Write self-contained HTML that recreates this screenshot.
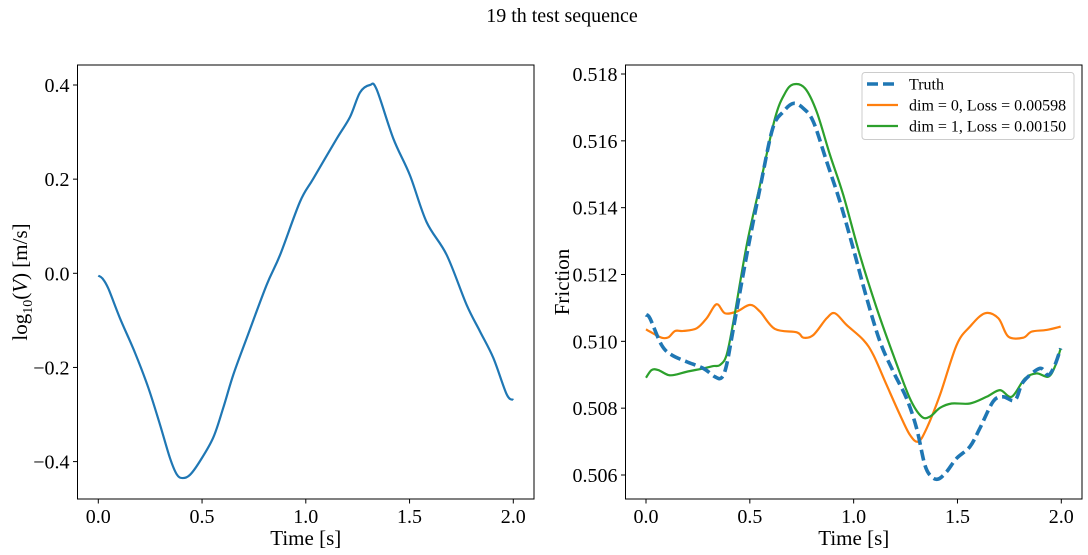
<!DOCTYPE html>
<html><head><meta charset="utf-8"><style>
html,body{margin:0;padding:0;background:#fff;}
svg{display:block;font-family:"Liberation Serif","DejaVu Serif",serif;}
</style></head><body>
<svg id="fig" width="1088" height="555" viewBox="0 0 1088 555" xmlns="http://www.w3.org/2000/svg">
<text x="562" y="22" font-size="20" text-anchor="middle">19 th test sequence</text>
<g id="left"></g>
<g id="right"></g>
</svg>
<script>
const xTicks = [0.0, 0.5, 1.0, 1.5, 2.0];
const xTickLabels = ["0.0","0.5","1.0","1.5","2.0"];
const vTicks = [-0.4,-0.2,0.0,0.2,0.4];
const vTickLabels = ["\u22120.4","\u22120.2","0.0","0.2","0.4"];
const fTicks = [0.506,0.508,0.510,0.512,0.514,0.516,0.518];
const fTickLabels = ["0.506","0.508","0.510","0.512","0.514","0.516","0.518"];

const vT = [0,0.02,0.048,0.104,0.177,0.241,0.297,0.345,0.378,0.406,0.442,0.49,0.554,0.602,0.651,0.715,0.811,0.876,0.972,1.036,1.149,1.213,1.261,1.309,1.341,1.422,1.502,1.582,1.679,1.775,1.839,1.904,1.968,2.0];
const vVal = [-0.005,-0.011,-0.032,-0.095,-0.169,-0.243,-0.321,-0.392,-0.427,-0.435,-0.428,-0.399,-0.349,-0.286,-0.215,-0.138,-0.025,0.039,0.152,0.201,0.286,0.332,0.384,0.400,0.391,0.286,0.208,0.109,0.039,-0.067,-0.123,-0.180,-0.257,-0.269];

const truthT = [0,0.019,0.075,0.124,0.196,0.276,0.332,0.364,0.388,0.421,0.485,0.549,0.61,0.661,0.71,0.758,0.806,0.87,0.934,0.998,1.063,1.127,1.191,1.255,1.303,1.343,1.375,1.408,1.448,1.496,1.56,1.608,1.672,1.72,1.777,1.817,1.897,1.937,1.969,1.997];
const truthVal = [0.51079,0.51069,0.50989,0.50959,0.50939,0.50919,0.50894,0.50891,0.50929,0.51039,0.51258,0.51458,0.51637,0.51687,0.51712,0.51697,0.51657,0.51538,0.51418,0.51278,0.51129,0.50999,0.50909,0.50829,0.5074,0.5063,0.50595,0.50588,0.5061,0.5065,0.50685,0.5074,0.5082,0.50834,0.50824,0.50879,0.50919,0.50899,0.50929,0.50979];

const dim0T = [0,0.019,0.075,0.108,0.14,0.18,0.244,0.292,0.34,0.38,0.437,0.501,0.549,0.621,0.726,0.758,0.806,0.87,0.91,0.966,1.047,1.095,1.159,1.223,1.271,1.311,1.352,1.416,1.496,1.56,1.632,1.697,1.745,1.817,1.857,1.929,1.997];
const dim0Val = [0.51036,0.51029,0.51011,0.51012,0.51031,0.51031,0.51039,0.51069,0.51111,0.51084,0.51089,0.51109,0.51089,0.51037,0.51027,0.51011,0.51019,0.51069,0.51084,0.51049,0.51004,0.50959,0.50869,0.5078,0.5072,0.507,0.5074,0.5084,0.50989,0.51044,0.51084,0.51069,0.51014,0.51011,0.51029,0.51034,0.51044];

const dim1T = [0,0.027,0.059,0.108,0.148,0.196,0.276,0.324,0.356,0.388,0.421,0.485,0.549,0.621,0.669,0.71,0.766,0.822,0.886,0.95,1.03,1.111,1.191,1.271,1.327,1.368,1.416,1.472,1.56,1.64,1.705,1.761,1.825,1.881,1.937,1.969,1.997];
const dim1Val = [0.50891,0.50914,0.50914,0.50899,0.50901,0.50909,0.50919,0.50926,0.50929,0.50959,0.51059,0.51288,0.51468,0.51667,0.51742,0.51769,0.51757,0.51687,0.51558,0.51438,0.51258,0.51099,0.50959,0.50829,0.50775,0.50775,0.50801,0.50814,0.50814,0.50834,0.50854,0.50834,0.50889,0.50904,0.50894,0.50924,0.50979];

const NS="http://www.w3.org/2000/svg";
function mk(tag, attrs, parent){const e=document.createElementNS(NS,tag);for(const k in attrs)e.setAttribute(k,attrs[k]);parent.appendChild(e);return e;}
function linMap(d0,d1,r0,r1){return v=>r0+(v-d0)*(r1-r0)/(d1-d0);}

function smoothPath(xs,ys){
  let d="M"+xs[0].toFixed(2)+","+ys[0].toFixed(2);
  for(let i=0;i<xs.length-1;i++){
    const p0=i>0?i-1:i, p3=i+2<xs.length?i+2:i+1;
    const c1x=xs[i]+(xs[i+1]-xs[p0])/6, c1y=ys[i]+(ys[i+1]-ys[p0])/6;
    const c2x=xs[i+1]-(xs[p3]-xs[i])/6, c2y=ys[i+1]-(ys[p3]-ys[i])/6;
    d+=" C"+c1x.toFixed(2)+","+c1y.toFixed(2)+" "+c2x.toFixed(2)+","+c2y.toFixed(2)+" "+xs[i+1].toFixed(2)+","+ys[i+1].toFixed(2);
  }
  return d;
}

function axes(g, box, xs, ys, yTicks, yLabels, yTitle, yTitleX){
  const {l,r,t,b}=box;
  xTicks.forEach((v,i)=>{
    const x=xs(v);
    const tk=mk("line",{x1:x,x2:x,y1:b,y2:b+4.5,stroke:"#000","stroke-width":1},g);
    
    
    const tx=mk("text",{x:x,y:b+24,"font-size":20,"text-anchor":"middle"},g);
    tx.textContent=xTickLabels[i];
    
    
  });
  yTicks.forEach((v,i)=>{
    const y=ys(v);
    const tk=mk("line",{x1:l-4.5,x2:l,y1:y,y2:y,stroke:"#000","stroke-width":1},g);
    
    
    const tx=mk("text",{x:l-8,y:y+7,"font-size":20,"text-anchor":"end"},g);
    tx.textContent=yLabels[i];
    
    
  });
  const xt=mk("text",{x:(l+r)/2,y:545,"font-size":21,"text-anchor":"middle"},g);
  xt.textContent="Time [s]";
  
  
  const cy=(t+b)/2;
  const yt=mk("text",{x:yTitleX,y:cy,"font-size":21,"text-anchor":"middle",transform:"rotate(-90 "+yTitleX+" "+cy+")"},g);
  yt.innerHTML=yTitle;
  
  
}
function frame(g,box){
  const f=mk("rect",{x:box.l,y:box.t,width:box.r-box.l,height:box.b-box.t,fill:"none",stroke:"#000","stroke-width":1},g);
  
  
}

// Left panel
const L=document.getElementById("left");
const lb={l:77.5,r:534,t:65,b:499};
const lx=linMap(0,2,98.3,513.3), ly=linMap(0,0.4,273.3,85);
axes(L,lb,lx,ly,vTicks,vTickLabels,'log<tspan font-size="14" dy="5">10</tspan><tspan dy="-5">(</tspan><tspan font-style="italic">V</tspan>) [m/s]',27);
const vp=mk("path",{d:smoothPath(vT.map(lx),vVal.map(ly)),fill:"none",stroke:"#1f77b4","stroke-width":2.2,"stroke-linejoin":"round"},L);


frame(L,lb);

// Right panel
const R=document.getElementById("right");
const rb={l:625.5,r:1082,t:65,b:499};
const rx=linMap(0,2,646,1061.3), ry=linMap(0.506,0.518,475,74);
axes(R,rb,rx,ry,fTicks,fTickLabels,'Friction',569);
const p0=mk("path",{d:smoothPath(dim0T.map(rx),dim0Val.map(ry)),fill:"none",stroke:"#ff7f0e","stroke-width":2.2,"stroke-linejoin":"round"},R);


const p1=mk("path",{d:smoothPath(dim1T.map(rx),dim1Val.map(ry)),fill:"none",stroke:"#2ca02c","stroke-width":2.2,"stroke-linejoin":"round"},R);


const pt=mk("path",{d:smoothPath(truthT.map(rx),truthVal.map(ry)),fill:"none",stroke:"#1f77b4","stroke-width":3.6,"stroke-dasharray":"11,5"},R);


frame(R,rb);

// Legend
const lg=mk("g",{},R);


mk("rect",{x:862,y:72.5,width:212,height:67,rx:3,fill:"#fff","fill-opacity":0.8,stroke:"#ccc","stroke-width":1},lg);
const entries=[["Truth","#1f77b4",3.6,"11,5"],["dim = 0, Loss = 0.00598","#ff7f0e",2.2,null],["dim = 1, Loss = 0.00150","#2ca02c",2.2,null]];
entries.forEach((e,i)=>{
  const y=84+i*21;
  const eg=mk("g",{},lg);
  
  
  const a={x1:867,x2:898,y1:y,y2:y,stroke:e[1],"stroke-width":e[2]};
  if(e[3])a["stroke-dasharray"]=e[3];
  mk("line",a,eg);
  const t=mk("text",{x:909,y:y+5.5,"font-size":16},eg);
  t.textContent=e[0];
});
</script>
</body></html>
